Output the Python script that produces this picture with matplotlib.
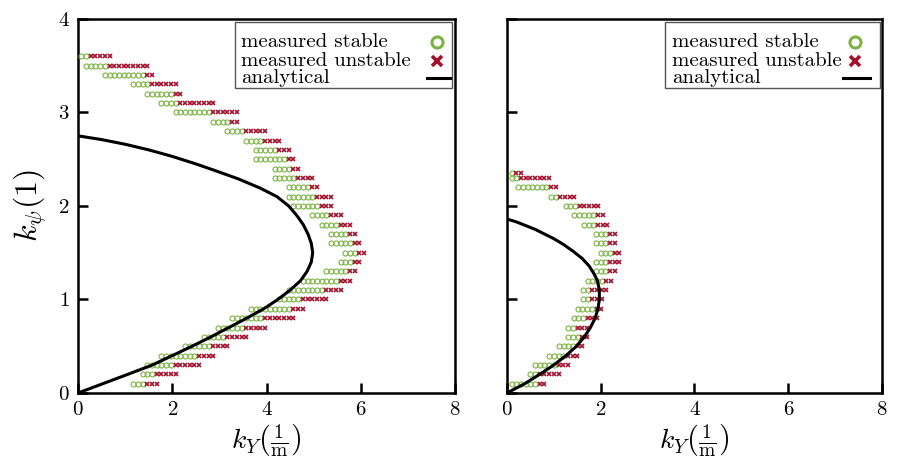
import numpy as np
import matplotlib
matplotlib.use("Agg")
import matplotlib.pyplot as plt
from matplotlib.patches import Rectangle

plt.rcParams['font.family'] = 'serif'
plt.rcParams['font.serif'] = ['cmr10']
plt.rcParams['mathtext.fontset'] = 'cm'
plt.rcParams['axes.formatter.use_mathtext'] = True

GREEN = '#7cb342'
RED = '#a3112d'

# ---------- left panel data (rows of k_psi) ----------
left_rows = [3.6, 3.5, 3.4, 3.3, 3.2, 3.1, 3.0, 2.9, 2.8, 2.7, 2.6, 2.5, 2.4, 2.3, 2.2, 2.1, 2.0, 1.9,
             1.8, 1.7, 1.6, 1.5, 1.4, 1.3, 1.2, 1.1, 1.0, 0.9, 0.8, 0.7, 0.6, 0.5, 0.4, 0.3, 0.2, 0.1]
left_start = [0.07, 0.17, 0.57, 1.17, 1.47, 1.77, 2.07, 2.87, 3.17, 3.57, 3.77, 3.77, 4.17, 4.17, 4.47, 4.47, 4.57, 4.97,
              5.17, 5.37, 5.37, 5.67, 5.57, 5.27, 4.77, 4.47, 4.27, 3.67, 3.27, 2.97, 2.67, 2.27, 1.77, 1.47, 1.37, 1.17]
left_n_stable = [2, 5, 9, 4, 6, 4, 8, 4, 4, 4, 5, 7, 4, 5, 5, 6, 6, 4,
                 4, 4, 5, 3, 3, 5, 8, 8, 5, 9, 7, 6, 5, 6, 8, 6, 3, 3]
left_n_unstable = [5, 9, 2, 6, 2, 8, 6, 2, 5, 4, 3, 2, 2, 4, 2, 4, 3, 3,
                   3, 2, 2, 2, 2, 2, 3, 4, 6, 3, 7, 5, 5, 4, 4, 6, 5, 3]

# analytical boundary, read along the path (k_Y, k_psi)
left_curve_kY = [0.0, 0.53, 1.06, 1.58, 2.0, 2.42, 2.82, 3.2, 3.58, 3.94, 4.24, 4.5, 4.72, 4.86, 4.95, 4.98,
                 4.95, 4.88, 4.78, 4.64, 4.47, 4.22, 3.87, 3.4, 2.9, 2.5, 2.0, 1.5, 1.0, 0.5, 0.0]
left_curve_psi = [0.0, 0.1, 0.2, 0.3, 0.4, 0.5, 0.6, 0.7, 0.8, 0.9, 1.0, 1.1, 1.2, 1.3, 1.4, 1.5,
                  1.6, 1.7, 1.8, 1.9, 2.0, 2.1, 2.19, 2.29, 2.38, 2.45, 2.53, 2.60, 2.66, 2.71, 2.75]

# ---------- right panel data ----------
right_rows = [2.35, 2.3, 2.2, 2.1, 2.0, 1.9, 1.8, 1.7, 1.6, 1.5, 1.4, 1.3, 1.2, 1.1, 1.0, 0.9, 0.8, 0.7,
              0.6, 0.5, 0.4, 0.3, 0.2, 0.1]
right_start = [0.1, 0.1, 0.24, 0.94, 1.25, 1.44, 1.64, 1.9, 1.9, 2.0, 1.9, 1.9, 1.72, 1.62, 1.62, 1.51, 1.42, 1.31,
               1.31, 1.11, 0.9, 0.6, 0.5, 0.1]
right_n_stable = [1, 2, 7, 2, 3, 5, 3, 3, 3, 3, 3, 3, 4, 2, 2, 4, 3, 2,
                  3, 4, 4, 5, 2, 6]
right_n_unstable = [2, 7, 2, 4, 5, 2, 3, 2, 2, 2, 3, 2, 2, 4, 3, 2, 3, 3,
                    2, 2, 3, 3, 5, 2]

right_curve_kY = [0.0, 0.38, 0.70, 1.0, 1.26, 1.48, 1.65, 1.78, 1.88, 1.94, 1.97, 1.97, 1.93, 1.85, 1.75,
                  1.6, 1.4, 1.2, 1.0, 0.8, 0.6, 0.4, 0.2, 0.0]
right_curve_psi = [0.0, 0.1, 0.2, 0.3, 0.4, 0.5, 0.6, 0.7, 0.8, 0.9, 1.0, 1.1, 1.2, 1.28, 1.36,
                   1.44, 1.52, 1.59, 1.65, 1.70, 1.75, 1.79, 1.83, 1.86]

x_ticks = [0, 2, 4, 6, 8]
y_ticks = [0, 1, 2, 3, 4]
legend_labels = ['measured stable', 'measured unstable', 'analytical']
STEP = 0.1


def expand(rows, start, n_s, n_u):
    sx, sy, ux, uy = [], [], [], []
    for r, s, a, b in zip(rows, start, n_s, n_u):
        xs = s + STEP * np.arange(a)
        xu = s + STEP * (a + np.arange(b))
        sx.extend(xs); sy.extend([r] * a)
        ux.extend(xu); uy.extend([r] * b)
    return sx, sy, ux, uy


def draw_legend(ax, box_x0, box_x1, text_x, hand_x, line_x0, line_x1):
    ys = [0.9385, 0.888, 0.842]
    ax.add_patch(Rectangle((box_x0, 0.8155), box_x1 - box_x0, 0.992 - 0.8155,
                           transform=ax.transAxes, facecolor='white', edgecolor='#555555',
                           lw=1.0, zorder=10))
    for lab, y in zip(legend_labels, ys):
        ax.text(text_x, y, lab, transform=ax.transAxes, fontsize=15, va='center', ha='left', zorder=11)
    ax.plot([hand_x], [ys[0]], transform=ax.transAxes, marker='o', ms=8, mfc='none', mec=GREEN,
            mew=2.2, linestyle='none', zorder=11, clip_on=False)
    ax.plot([hand_x], [ys[1]], transform=ax.transAxes, marker='x', ms=7, mec=RED,
            mew=2.6, linestyle='none', zorder=11, clip_on=False)
    ax.plot([line_x0, line_x1], [ys[2], ys[2]], transform=ax.transAxes, color='black', lw=2.2,
            zorder=11, clip_on=False)


fig = plt.figure(figsize=(9.05, 4.67), dpi=100)
ax1 = fig.add_axes([0.0862, 0.1585, 0.4166, 0.8009])
ax2 = fig.add_axes([0.5602, 0.1585, 0.4144, 0.8009])

panels = [
    (ax1, left_rows, left_start, left_n_stable, left_n_unstable, left_curve_kY, left_curve_psi),
    (ax2, right_rows, right_start, right_n_stable, right_n_unstable, right_curve_kY, right_curve_psi),
]

for i, (ax, rows, st, ns, nu, ckY, cpsi) in enumerate(panels):
    sx, sy, ux, uy = expand(rows, st, ns, nu)
    ax.plot(sx, sy, linestyle='none', marker='o', ms=3.6, mfc='none', mec=GREEN, mew=0.8, zorder=3)
    ax.plot(ux, uy, linestyle='none', marker='x', ms=3.2, mec=RED, mew=1.2, zorder=3)
    ax.plot(ckY, cpsi, color='black', lw=2.2, zorder=4, solid_joinstyle='round')
    ax.set_xlim(0, 8)
    ax.set_ylim(0, 4)
    ax.set_xticks(x_ticks)
    ax.set_yticks(y_ticks)
    ax.tick_params(direction='in', length=7, width=1.8, labelsize=15, top=False, right=False, pad=6)
    for sp in ax.spines.values():
        sp.set_linewidth(1.8)
    ax.set_xlabel(r'$k_Y\left(\frac{1}{\mathrm{m}}\right)$', fontsize=20, labelpad=2)
    if i == 0:
        ax.set_ylabel(r'$k_\psi(1)$', fontsize=23, labelpad=6)
        draw_legend(ax, 0.416, 0.992, 0.432, 0.952, 0.926, 0.987)
    else:
        ax.set_yticklabels([])
        draw_legend(ax, 0.421, 0.995, 0.440, 0.928, 0.896, 0.968)

fig.savefig('out.png', dpi=100)
